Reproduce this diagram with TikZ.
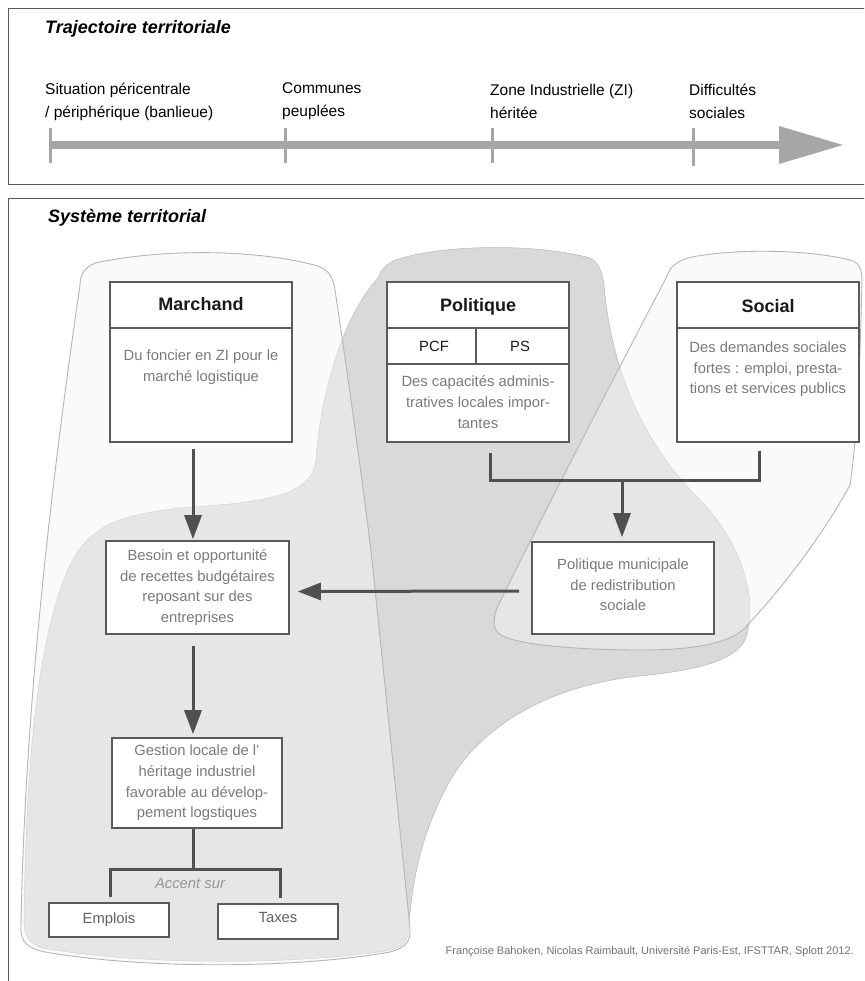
\documentclass[tikz,border=0pt]{standalone}
\usepackage{fontspec}
\setmainfont{Liberation Sans}
\usetikzlibrary{arrows.meta}

\definecolor{frameC}{HTML}{595959}
\definecolor{boxC}{HTML}{5A5A5A}
\definecolor{arrC}{HTML}{505050}
\definecolor{txtC}{HTML}{7A7A7A}
\definecolor{barC}{HTML}{A6A6A6}
\definecolor{blobB}{HTML}{D9D9D9}
\definecolor{blobL}{HTML}{F6F6F6}
\definecolor{blobEdge}{HTML}{B5B5B5}

\tikzset{
  boxnode/.style={draw=boxC, line width=1.6pt, fill=white, inner sep=0pt},
  bodytxt/.style={text=txtC, font=\fontsize{14.8}{20.7}\selectfont, align=center, inner sep=0pt},
  headtxt/.style={text=black!90, font=\fontsize{18}{22}\selectfont\bfseries, inner sep=0pt, anchor=base},
  cellTxt/.style={text=black!90, font=\fontsize{14.8}{18}\selectfont, inner sep=0pt, anchor=base},
  arr/.style={draw=arrC, line width=3pt, -{Triangle[length=24pt,width=17pt]}},
  harr/.style={draw=arrC, line width=3pt, -{Triangle[length=23pt,width=17pt]}},
  conn/.style={draw=arrC, line width=3pt},
  tickline/.style={draw=barC, line width=3pt},
  tllabel/.style={anchor=west, align=left, inner sep=0pt, font=\fontsize{15.5}{23}\selectfont},
  titletxt/.style={anchor=west, inner sep=0pt, font=\fontsize{18}{22}\selectfont\bfseries\itshape},
  lightblob/.style={fill=blobL, fill opacity=0.45, draw=blobEdge, draw opacity=1, line width=0.9pt},
}

\begin{document}
\begin{tikzpicture}[x=1pt,y=-1pt]
\useasboundingbox (0,0) rectangle (864,981);
\clip (0,0) rectangle (864,981);
\fill[white] (0,0) rectangle (864,981);

% ---------- frames ----------
\draw[frameC, line width=1pt] (8,9) rectangle (880,185);
\draw[frameC, line width=1pt] (8,199) rectangle (880,1000);

% ---------- titles ----------
\node[titletxt] (title1) at (45,29) {Trajectoire territoriale};
\node[titletxt] (title2) at (48,218) {Système territorial};

% ---------- timeline ----------
\coordinate (tlstart) at (50,145);
\coordinate (tlend) at (781,145);
\draw[barC, line width=8pt] (tlstart) -- (tlend);
\fill[barC] (779,126) -- (843,145) -- (779,164) -- cycle;
\draw[tickline] (50,128) -- (50,163);
\draw[tickline] (285,128) -- (285,163);
\draw[tickline] (492,128) -- (492,163);
\draw[tickline] (693,128) -- (693,166);
\node[tllabel] (t1) at (45,101.5) {Situation péricentrale\\/ périphérique (banlieue)};
\node[tllabel] (t2) at (282,101.5) {Communes\\peuplées};
\node[tllabel] (t3) at (490,101.5) {Zone Industrielle (ZI)\\héritée};
\node[tllabel] (t4) at (689,101.5) {Difficultés\\sociales};

% ---------- blobs ----------
% Politique blob (darker)
\path[fill=blobB, draw=blobB!85!black, line width=0.5pt]
  (378,278) .. controls (383,266) and (390,261) .. (402,258)
  .. controls (450,244) and (540,244) .. (590,258)
  .. controls (598,262) and (602,270) .. (604,285)
  .. controls (612,380) and (650,450) .. (700,500)
  .. controls (740,540) and (760,600) .. (745,640)
  .. controls (735,660) and (700,670) .. (640,676)
  .. controls (560,684) and (480,720) .. (445,790)
  .. controls (420,840) and (412,880) .. (408,935)
  .. controls (405,945) and (398,949) .. (385,951)
  .. controls (300,964) and (150,966) .. (48,949)
  .. controls (30,946) and (24,938) .. (24,920)
  .. controls (26,780) and (35,640) .. (70,565)
  .. controls (90,525) and (120,515) .. (180,508)
  .. controls (270,502) and (312,495) .. (316,460)
  .. controls (320,400) and (340,320) .. (378,278) -- cycle;

% Marchand blob
\path[lightblob]
  (80,285) .. controls (80,272) and (88,264) .. (100,262)
  .. controls (170,248) and (260,250) .. (318,266)
  .. controls (328,270) and (333,276) .. (335,290)
  .. controls (350,390) and (365,500) .. (372,560)
  -- (410,928)
  .. controls (411,942) and (405,948) .. (390,952)
  .. controls (300,968) and (150,970) .. (45,952)
  .. controls (25,948) and (20,940) .. (21,925)
  .. controls (24,760) and (40,560) .. (80,285) -- cycle;

% Social blob
\path[lightblob]
  (666,278) .. controls (670,266) and (678,260) .. (692,257)
  .. controls (740,248) and (810,250) .. (850,260)
  .. controls (858,262) and (862,268) .. (862,280)
  .. controls (860,360) and (858,430) .. (850,485)
  .. controls (820,540) and (780,590) .. (745,628)
  .. controls (730,642) and (700,650) .. (640,650)
  .. controls (580,650) and (520,645) .. (503,636)
  .. controls (493,632) and (492,622) .. (497,608)
  .. controls (530,540) and (610,385) .. (666,278) -- cycle;

% ---------- boxes ----------
\node[boxnode, minimum width=182pt, minimum height=160pt] (marchand) at (201,362) {};
\draw[boxC, line width=1.6pt] (110,328) -- (292,328);
\node[headtxt] (marchandH) at (201,310) {Marchand};
\node[bodytxt, anchor=north] (marchandB) at (201,349.5) {Du foncier en ZI pour le\\marché logistique};

\node[boxnode, minimum width=182pt, minimum height=160pt] (politique) at (478,362) {};
\draw[boxC, line width=1.6pt] (387,328) -- (569,328);
\draw[boxC, line width=1.6pt] (387,364) -- (569,364);
\draw[boxC, line width=1.6pt] (476,328) -- (476,364);
\node[headtxt] (politiqueH) at (478,311) {Politique};
\node[cellTxt] (pcf) at (434,351) {PCF};
\node[cellTxt] (ps) at (520,351) {PS};
\node[bodytxt, anchor=north] (politiqueB) at (478,375.5) {Des capacités adminis-\\tratives locales impor-\\tantes};

\node[boxnode, minimum width=182pt, minimum height=160pt] (social) at (768,362) {};
\draw[boxC, line width=1.6pt] (677,328) -- (859,328);
\node[headtxt] (socialH) at (768,312) {Social};
\node[bodytxt, anchor=north] (socialB) at (768,341.5) {Des demandes sociales\\fortes : emploi, presta-\\tions et services publics};

\node[boxnode, minimum width=183pt, minimum height=93pt, bodytxt, draw=boxC, fill=white] (besoin) at (197.5,587.5)
  {Besoin et opportunité\\de recettes budgétaires\\reposant sur des\\entreprises};

\node[boxnode, minimum width=182pt, minimum height=92pt] (polmun) at (623,588) {};
\node[bodytxt] (polmunT) at (623,585) {Politique municipale\\de redistribution\\sociale};

\node[boxnode, minimum width=170pt, minimum height=90pt, bodytxt, draw=boxC, fill=white] (gestion) at (197,783)
  {Gestion locale de l'\\héritage industriel\\favorable au dévelop-\\pement logstiques};

\node[boxnode, minimum width=120pt, minimum height=34pt, text=black!62, font=\fontsize{14.8}{18}\selectfont] (emplois) at (109,920) {Emplois};
\node[boxnode, minimum width=120pt, minimum height=35pt] (taxes) at (278,921.5) {};
\node[text=black!62, font=\fontsize{14.8}{18}\selectfont, inner sep=0pt] (taxesT) at (278,917.5) {Taxes};

% ---------- connectors ----------
\draw[arr] ([xshift=-8pt,yshift=-6pt]marchand.south) -- ([xshift=-4.5pt,yshift=1pt]besoin.north);
\draw[arr] ([xshift=-4.5pt,yshift=-11pt]besoin.south) -- ([xshift=-4pt,yshift=3pt]gestion.north);
\draw[harr] ([xshift=-12pt,yshift=-3pt]polmun.west) -- ([xshift=8pt,yshift=-4pt]besoin.east);

\coordinate (jn) at (622,480);
\draw[conn] ([xshift=12pt,yshift=-10pt]politique.south) |- (jn) -| ([xshift=-9pt,yshift=-8pt]social.south);
\draw[arr] (jn) -- ([xshift=-1pt,yshift=4pt]polmun.north);

\coordinate (fk) at (193,869);
\draw[conn] ([xshift=-4pt]gestion.south) -- (fk);
\draw[conn] ([xshift=1pt,yshift=5pt]emplois.north) |- (fk) -| ([xshift=2pt,yshift=5pt]taxes.north);
\node[text=txtC!80, font=\fontsize{14.8}{18}\selectfont\itshape, inner sep=0pt] (accent) at (190,883) {Accent sur};

% ---------- footer ----------
\node[anchor=east, inner sep=0pt, text=black!55, font=\fontsize{11}{13}\selectfont] (footer) at (854,952)
  {Françoise Bahoken, Nicolas Raimbault, Université Paris-Est, IFSTTAR, Splott 2012.};
\end{tikzpicture}
\end{document}
